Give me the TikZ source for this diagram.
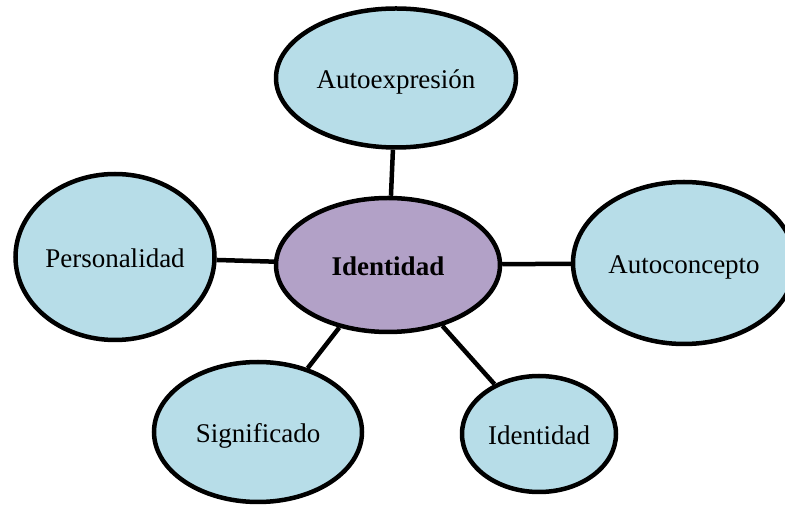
\documentclass[tikz,border=0pt]{standalone}
\usepackage{fontspec}
\setmainfont{Liberation Serif}
\usetikzlibrary{shapes.geometric}
\definecolor{lblue}{HTML}{B7DDE8}
\definecolor{lpurple}{HTML}{B2A1C7}
\tikzset{
  bub/.style={ellipse, draw=black, line width=4.5pt, fill=lblue, inner sep=0pt, text height=24pt, text depth=2pt, font=\fontsize{27}{31}\selectfont},
  link/.style={line width=4.5pt}
}
\begin{document}
\begin{tikzpicture}[x=1pt,y=1pt]
\useasboundingbox (0,0) rectangle (785,506);
\node[bub, minimum width=240pt, minimum height=139pt] (ae) at (396,428) {Autoexpresión};
\node[bub, minimum width=199pt, minimum height=166pt] (pe) at (115,249) {Personalidad};
\node[bub, fill=lpurple, minimum width=224pt, minimum height=134pt, font=\fontsize{27}{31}\selectfont\bfseries] (id) at (388,241) {Identidad};
\node[bub, minimum width=222pt, minimum height=162pt] (ac) at (684,243) {Autoconcepto};
\node[bub, minimum width=208pt, minimum height=140pt] (si) at (258,74) {Significado};
\node[bub, minimum width=154pt, minimum height=116pt] (is) at (539,72) {Identidad};
\draw[link] (ae) -- (id);
\draw[link] (pe) -- (id);
\draw[link] (id) -- (ac);
\draw[link] (id) -- (si);
\draw[link] (id) -- (is);
\end{tikzpicture}
\end{document}
